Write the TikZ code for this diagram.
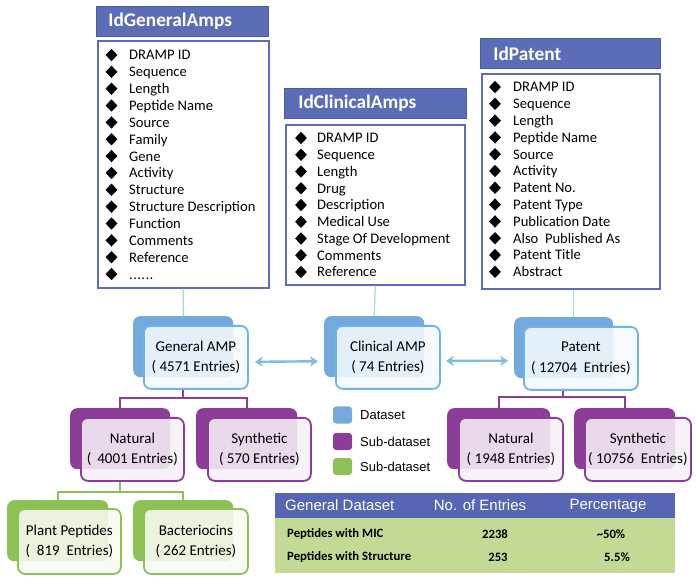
\documentclass[tikz,border=0pt]{standalone}
\usepackage{fontspec}
\setmainfont{Carlito}
\newfontfamily\arialf{Liberation Sans}
\usetikzlibrary{arrows.meta,shapes.geometric}
\newcommand\mysixdots{.\kern0.4pt.\kern0.4pt.\kern0.4pt.\kern0.4pt.\kern0.4pt.}
\definecolor{titleblue}{HTML}{5C6DB7}
\definecolor{titleedge}{HTML}{4A5AA6}
\definecolor{dsblue}{HTML}{72AADD}
\definecolor{dsedge}{HTML}{6DB3E6}
\definecolor{subpurple}{HTML}{8C3D98}
\definecolor{subgreen}{HTML}{8DC153}
\definecolor{tealline}{HTML}{A6D8DA}
\definecolor{arrowblue}{HTML}{80BBE0}
\definecolor{tablegreen}{HTML}{C3DA95}
\definecolor{tablehead}{HTML}{5666B3}
\tikzset{
  titlebox/.style={fill=titleblue, draw=titleedge, line width=0.8pt, anchor=north west, minimum height=30pt, inner xsep=0pt, text=white, font=\fontsize{19.3}{19.3}\selectfont\bfseries},
  listbox/.style={draw=titleblue, line width=1.6pt, fill=white, anchor=north west},
  bul/.style={diamond, fill=black, minimum width=12pt, minimum height=12.5pt, inner sep=0pt},
  item/.style={anchor=base west, inner sep=0pt, font=\fontsize{14.6}{14.6}\selectfont},
  backshape/.style={fill=#1, rounded corners=7pt, anchor=north west, minimum width=100pt, minimum height=61pt},
  frontshape/.style={draw=#1, line width=1.8pt, fill=#1!8!white, fill opacity=0.88, text opacity=1, rounded corners=7pt, anchor=north west, minimum width=104pt, minimum height=63pt, align=center, font=\fontsize{15}{20.5}\selectfont},
  tline/.style={draw=tealline, line width=1.2pt},
  pline/.style={draw=subpurple, line width=1.8pt},
  gline/.style={draw=subgreen, line width=1.8pt},
  dblarrow/.style={draw=arrowblue, line width=2.4pt, {Stealth[length=8pt,width=10pt]}-{Stealth[length=8pt,width=10pt]}},
  legsq/.style={rounded corners=3pt, minimum width=19pt, minimum height=17pt, inner sep=0pt},
  legtext/.style={anchor=west, inner sep=0pt, font=\arialf\fontsize{13}{13}\selectfont},
  headtext/.style={inner sep=0pt, text=white, font=\arialf\fontsize{15}{15}\selectfont},
  rowtext/.style={inner sep=0pt, font=\fontsize{12.7}{12.7}\selectfont\bfseries},
}
\begin{document}
\begin{tikzpicture}[x=1pt,y=-1pt]
\useasboundingbox (0,0) rectangle (697,580);

% ---------- entity boxes ----------
\node[titlebox, minimum width=172pt, text width=148pt, inner xsep=12pt] (GT) at (96,6) {IdGeneralAmps};
\node[listbox, minimum width=171pt, minimum height=247pt] (GL) at (97,40) {};
\foreach [count=\i] \t in {DRAMP ID,Sequence,Length,Peptide Name,Source,Family,Gene,Activity,Structure,Structure Description,Function,Comments,Reference,\mysixdots}{
  \node[bul] (gb\i) at (111.5,{55+16.85*(\i-1)}) {};
  \node[item] (gi\i) at (129,{60+16.85*(\i-1)}) {\t};
}

\node[titlebox, minimum width=182pt, text width=154pt, inner xsep=14pt] (CT) at (284,88) {IdClinicalAmps};
\node[listbox, minimum width=179pt, minimum height=160pt] (CL) at (285,124) {};
\foreach [count=\i] \t in {DRAMP ID,Sequence,Length,Drug,Description,Medical Use,Stage Of Development,Comments,Reference}{
  \node[bul] (cb\i) at (301,{138+16.75*(\i-1)}) {};
  \node[item] (ci\i) at (317,{143+16.75*(\i-1)}) {\t};
}

\node[titlebox, minimum width=180pt, text width=154pt, inner xsep=13pt] (PT) at (480,38) {IdPatent};
\node[listbox, minimum width=178pt, minimum height=215pt] (PL) at (481,73) {};
\foreach [count=\i] \t in {DRAMP ID,Sequence,Length,Peptide Name,Source,Activity,Patent No.,Patent Type,Publication Date,Also\ \ Published As,Patent Title,Abstract}{
  \node[bul] (pb\i) at (495,{87+16.8*(\i-1)}) {};
  \node[item] (pi\i) at (513,{92+16.8*(\i-1)}) {\t};
}

% ---------- datasets ----------
\node[backshape=dsblue] (GAb) at (133,316) {};
\node[frontshape=dsedge] (GA) at (143,325) {General AMP\\( 4571 Entries)};
\node[backshape=dsblue] (CAb) at (324,316) {};
\node[frontshape=dsedge] (CA) at (335,325) {Clinical AMP\\( 74 Entries)};
\node[backshape=dsblue, minimum width=99pt] (PAb) at (514,317) {};
\node[frontshape=dsedge, minimum width=114pt] (PA) at (523,326) {Patent\\( 12704\ \ Entries)};

\draw[tline] (GL.south) -- (GAb.north);
\draw[tline] (CL.south) -- (CAb.north);
\draw[tline] ([xshift=3pt]PL.south) -- ([xshift=3pt]PL.south |- PAb.north);

\draw[dblarrow, shorten <=6pt, shorten >=6pt] ([yshift=-4.5pt]GA.east) -- ([yshift=-14.5pt]CAb.west);
\draw[dblarrow, shorten <=5pt, shorten >=6pt] ([yshift=-3.5pt]CA.east) -- ([yshift=-13pt]PAb.west);

% ---------- sub-datasets ----------
\node[backshape=subpurple] (GNb) at (70,408) {};
\node[frontshape=subpurple, minimum width=103pt] (GN) at (80,417) {Natural\\( \,4001 Entries)};
\node[backshape=subpurple, minimum width=101pt] (GSb) at (196,408) {};
\node[frontshape=subpurple, minimum width=103pt] (GS) at (207,417) {Synthetic\\( 570 Entries)};

\node[backshape=subpurple, minimum width=103pt] (PNb) at (447,408) {};
\node[frontshape=subpurple] (PN) at (458,417) {Natural\\( 1948 Entries)};
\node[backshape=subpurple, minimum width=101pt] (PSb) at (574,408) {};
\node[frontshape=subpurple] (PS) at (584,417) {Synthetic\\( 10756\ \ Entries)};

\coordinate (gsplit) at (183,398);
\draw[pline] (gsplit |- GA.south) -- (gsplit);
\draw[pline] (GNb.north) |- (gsplit) -| (GSb.north);
\coordinate (psplit) at (563,397);
\draw[pline] (psplit |- PA.south) -- (psplit);
\draw[pline] (PNb.north) |- (psplit) -| (PSb.north);

\node[backshape=subgreen, minimum width=101pt] (PPb) at (7,500) {};
\node[frontshape=subgreen, minimum width=103pt, minimum height=65pt] (PP) at (17,508) {Plant Peptides\\(\ \ 819\ \ Entries)};
\node[backshape=subgreen] (BCb) at (133,500) {};
\node[frontshape=subgreen, minimum width=104pt, minimum height=65pt] (BC) at (143,508) {Bacteriocins\\( 262 Entries)};

\coordinate (nsplit) at (120,492);
\draw[gline] (nsplit |- GN.south) -- (nsplit);
\draw[gline] (PPb.north) |- (nsplit) -| (BCb.north);

% ---------- legend ----------
\node[legsq, fill=dsblue] (l1) at (342.5,415) {};
\node[legtext] (lt1) at (360,415) {Dataset};
\node[legsq, fill=subpurple] (l2) at (342.5,441.5) {};
\node[legtext] (lt2) at (360,442) {Sub-dataset};
\node[legsq, fill=subgreen] (l3) at (342.5,466.5) {};
\node[legtext] (lt3) at (360,467) {Sub-dataset};

% ---------- table ----------
\node[fill=tablehead, anchor=north west, minimum width=400pt, minimum height=25pt, inner sep=0pt] (TH) at (275,493) {};
\node[fill=tablegreen, anchor=north west, minimum width=400pt, minimum height=55pt, inner sep=0pt] (TB) at (275,518) {};
\node[headtext, anchor=west] (h1) at (285,505.5) {General Dataset};
\node[headtext] (h2) at (480,505.5) {No. of Entries};
\node[headtext] (h3) at (608,505.5) {Percentage};
\node[rowtext, anchor=west] (r1a) at (287,534) {Peptides with MIC};
\node[rowtext] (r1b) at (495,534) {2238};
\node[rowtext] (r1c) at (611,534) {\textasciitilde 50\%};
\node[rowtext, anchor=west] (r2a) at (287,557) {Peptides with Structure};
\node[rowtext] (r2b) at (498,557) {253};
\node[rowtext] (r2c) at (617,557) {5.5\%};
\end{tikzpicture}
\end{document}
